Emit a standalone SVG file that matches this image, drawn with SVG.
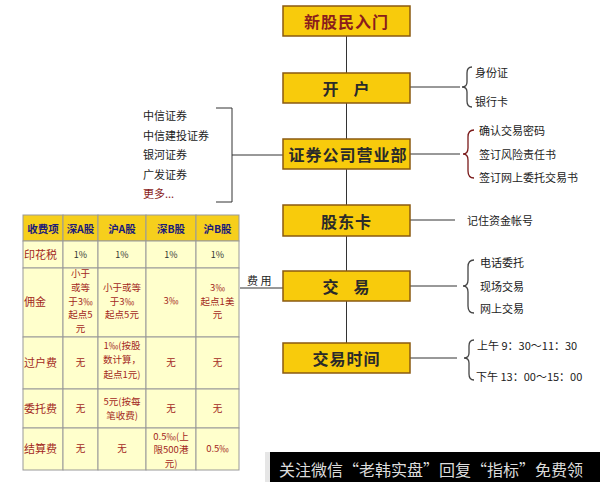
<svg xmlns="http://www.w3.org/2000/svg" width="600" height="482" viewBox="0 0 600 482">
<style>
text{font-family:"Noto Sans CJK SC","Noto Sans",sans-serif;}
.box{fill:#F8CB0C;stroke:#8A5A10;stroke-width:1.5;}
.bt{font-size:16px;font-weight:bold;fill:#2a2a2a;text-anchor:middle;dominant-baseline:central;letter-spacing:1px;}
.lbl{font-size:11px;fill:#222;dominant-baseline:central;}
.ln{stroke:#333;stroke-width:1;fill:none;}
.br{stroke:#444;stroke-width:1.3;fill:none;}
.brr{stroke:#7a1a1a;stroke-width:1.3;fill:none;}
.hd{fill:#F6CF1C;stroke:#999;stroke-width:1;}
.cl{fill:#FFFFCC;stroke:#999;stroke-width:1;}
.ht{font-size:10.5px;font-weight:bold;fill:#1a1a7a;text-anchor:middle;dominant-baseline:central;}
.ct{font-size:9.5px;fill:#a3281c;text-anchor:middle;dominant-baseline:central;}
.cd{font-size:9px;fill:#333;text-anchor:middle;dominant-baseline:central;}
.rl{font-size:11px;fill:#a3281c;dominant-baseline:central;}
</style>
<rect width="600" height="482" fill="#fff"/>
<g id="connectors">
<line class="ln" x1="346.5" y1="36" x2="346.5" y2="73"/>
<line class="ln" x1="346.5" y1="103" x2="346.5" y2="139"/>
<line class="ln" x1="346.5" y1="169" x2="346.5" y2="205"/>
<line class="ln" x1="346.5" y1="236" x2="346.5" y2="271"/>
<line class="ln" x1="346.5" y1="301" x2="346.5" y2="343"/>
<line class="ln" x1="410" y1="87" x2="460" y2="87"/>
<line class="ln" x1="410" y1="154" x2="460" y2="154"/>
<line class="ln" x1="410" y1="220" x2="455" y2="220"/>
<line class="ln" x1="410" y1="286" x2="457" y2="286"/>
<line class="ln" x1="410" y1="358" x2="457" y2="358"/>
<line class="ln" x1="232" y1="155" x2="283" y2="155"/>
<line class="ln" x1="240" y1="288" x2="283" y2="288"/>
<path class="ln" d="M216,108 H232 V202 H216"/>
<path class="br" d="M472,67 Q467,67 467,73 L467,82 Q467,87 462,87 Q467,87 467,92 L467,101 Q467,107 472,107"/>
<path class="brr" d="M474,130 Q468,130 468,137 L468,148 Q468,154 463,154 Q468,154 468,160 L468,171 Q468,178 474,178"/>
<path class="br" d="M474,260 Q468,260 468,267 L468,280 Q468,286 463,286 Q468,286 468,292 L468,306 Q468,313 474,313"/>
<path class="br" d="M474,340 Q469,340 469,346 L469,353 Q469,358 464,358 Q469,358 469,363 L469,374 Q469,380 474,380"/>
</g>
<g id="n-start"><rect class="box" x="283" y="6" width="127" height="30"/><text class="bt" x="346.5" y="21" style="fill:#8a1c1c">新股民入门</text></g>
<g id="n-open"><rect class="box" x="283" y="73" width="127" height="30"/><text class="bt" x="346.5" y="88" xml:space="preserve">开   户</text></g>
<g id="n-broker"><rect class="box" x="283" y="139" width="127" height="30"/><text class="bt" x="348" y="154">证券公司营业部</text></g>
<g id="n-card"><rect class="box" x="283" y="205" width="127" height="31"/><text class="bt" x="346.5" y="220.5">股东卡</text></g>
<g id="n-trade"><rect class="box" x="283" y="271" width="127" height="30"/><text class="bt" x="346.5" y="286" xml:space="preserve">交   易</text></g>
<g id="n-time"><rect class="box" x="283" y="343" width="127" height="30"/><text class="bt" x="346.5" y="358">交易时间</text></g>
<g id="open-items"><text class="lbl" x="475" y="72">身份证</text><text class="lbl" x="475" y="101">银行卡</text></g>
<g id="broker-items"><text class="lbl" x="479" y="130">确认交易密码</text><text class="lbl" x="479" y="154">签订风险责任书</text><text class="lbl" x="479" y="177">签订网上委托交易书</text></g>
<g id="card-items"><text class="lbl" x="467" y="220">记住资金帐号</text></g>
<g id="trade-items"><text class="lbl" x="480" y="262">电话委托</text><text class="lbl" x="480" y="286">现场交易</text><text class="lbl" x="480" y="308">网上交易</text></g>
<g id="time-items"><text class="lbl" x="477" y="345">上午 9：30～11：30</text><text class="lbl" x="476" y="376">下午 13：00～15：00</text></g>
<g id="brokers"><text class="lbl" x="143" y="115">中信证券</text><text class="lbl" x="143" y="135">中信建投证券</text><text class="lbl" x="143" y="154">银河证券</text><text class="lbl" x="143" y="174">广发证券</text><text class="lbl" x="143" y="193" style="fill:#8a1c1c">更多...</text></g>
<g id="fee-label"><text class="lbl" x="247" y="280" xml:space="preserve">费 用</text></g>
<g id="fee-table">
<rect class="hd" x="23" y="215" width="40" height="26"/><rect class="hd" x="63" y="215" width="35" height="26"/><rect class="hd" x="98" y="215" width="48" height="26"/><rect class="hd" x="146" y="215" width="50" height="26"/><rect class="hd" x="196" y="215" width="43" height="26"/>
<rect class="cl" x="23" y="241" width="40" height="27"/><rect class="cl" x="63" y="241" width="35" height="27"/><rect class="cl" x="98" y="241" width="48" height="27"/><rect class="cl" x="146" y="241" width="50" height="27"/><rect class="cl" x="196" y="241" width="43" height="27"/>
<rect class="cl" x="23" y="268" width="40" height="69"/><rect class="cl" x="63" y="268" width="35" height="69"/><rect class="cl" x="98" y="268" width="48" height="69"/><rect class="cl" x="146" y="268" width="50" height="69"/><rect class="cl" x="196" y="268" width="43" height="69"/>
<rect class="cl" x="23" y="337" width="40" height="52"/><rect class="cl" x="63" y="337" width="35" height="52"/><rect class="cl" x="98" y="337" width="48" height="52"/><rect class="cl" x="146" y="337" width="50" height="52"/><rect class="cl" x="196" y="337" width="43" height="52"/>
<rect class="cl" x="23" y="389" width="40" height="39"/><rect class="cl" x="63" y="389" width="35" height="39"/><rect class="cl" x="98" y="389" width="48" height="39"/><rect class="cl" x="146" y="389" width="50" height="39"/><rect class="cl" x="196" y="389" width="43" height="39"/>
<rect class="cl" x="23" y="428" width="40" height="42"/><rect class="cl" x="63" y="428" width="35" height="42"/><rect class="cl" x="98" y="428" width="48" height="42"/><rect class="cl" x="146" y="428" width="50" height="42"/><rect class="cl" x="196" y="428" width="43" height="42"/>
<text class="ht" x="43" y="228">收费项</text><text class="ht" x="80.5" y="228">深A股</text><text class="ht" x="122" y="228">沪A股</text><text class="ht" x="171" y="228">深B股</text><text class="ht" x="217.5" y="228">沪B股</text>
<text class="rl" x="24" y="254">印花税</text><text class="cd" x="80.5" y="254">1%</text><text class="cd" x="122" y="254">1%</text><text class="cd" x="171" y="254">1%</text><text class="cd" x="217.5" y="254">1%</text>
<text class="rl" x="24" y="301">佣金</text>
<text class="ct" x="80.5" y="273">小于</text><text class="ct" x="80.5" y="287">或等</text><text class="ct" x="80.5" y="300.5">于3‰</text><text class="ct" x="80.5" y="314">起点5</text><text class="ct" x="80.5" y="327.5">元</text>
<text class="ct" x="122" y="287">小于或等</text><text class="ct" x="122" y="300.5">于3‰</text><text class="ct" x="122" y="314">起点5元</text>
<text class="ct" x="171" y="300">3‰</text>
<text class="ct" x="217.5" y="287">3‰</text><text class="ct" x="217.5" y="300.5">起点1美</text><text class="ct" x="217.5" y="314">元</text>
<text class="rl" x="24" y="362">过户费</text><text class="ct" x="80.5" y="362">无</text><text class="ct" x="122" y="345">1‰(按股</text><text class="ct" x="122" y="359">数计算，</text><text class="ct" x="122" y="373.5">起点1元)</text><text class="ct" x="171" y="362">无</text><text class="ct" x="217.5" y="362">无</text>
<text class="rl" x="24" y="408">委托费</text><text class="ct" x="80.5" y="408">无</text><text class="ct" x="122" y="401">5元(按每</text><text class="ct" x="122" y="414.5">笔收费)</text><text class="ct" x="171" y="408">无</text><text class="ct" x="217.5" y="408">无</text>
<text class="rl" x="24" y="448">结算费</text><text class="ct" x="80.5" y="448">无</text><text class="ct" x="122" y="448">无</text><text class="ct" x="171" y="435.5">0.5‰(上</text><text class="ct" x="171" y="449">限500港</text><text class="ct" x="171" y="462.5">元)</text><text class="ct" x="217.5" y="448">0.5‰</text>
</g>
<g id="watermark"><rect x="265" y="452" width="5" height="30" fill="#e6e6e6"/><rect x="270" y="452" width="330" height="30" fill="#000"/><text x="279" y="469" style="font-size:16px;fill:#dcdcdc;dominant-baseline:central">关注微信“老韩实盘”回复“指标”免费领</text></g>
</svg>
